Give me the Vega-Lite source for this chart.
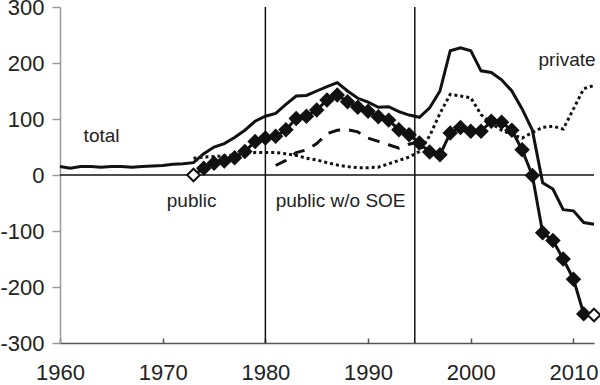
{
  "$schema": "https://vega.github.io/schema/vega-lite/v6.json",
  "width": 534,
  "height": 336,
  "autosize": "none",
  "padding": {"left": 60, "top": 7, "right": 6, "bottom": 42},
  "background": "white",
  "config": {
    "view": {"stroke": null},
    "font": "Liberation Sans",
    "axis": {"grid": false, "labelFont": "Liberation Sans", "labelFontSize": 22, "labelColor": "#222", "title": null, "labelFlush": false}
  },
  "datasets": {
    "series": [
      {"series": "total", "year": 1960, "value": 15},
      {"series": "total", "year": 1961, "value": 12},
      {"series": "total", "year": 1962, "value": 15},
      {"series": "total", "year": 1963, "value": 15},
      {"series": "total", "year": 1964, "value": 14},
      {"series": "total", "year": 1965, "value": 15},
      {"series": "total", "year": 1966, "value": 15},
      {"series": "total", "year": 1967, "value": 14},
      {"series": "total", "year": 1968, "value": 15},
      {"series": "total", "year": 1969, "value": 16},
      {"series": "total", "year": 1970, "value": 17},
      {"series": "total", "year": 1971, "value": 19},
      {"series": "total", "year": 1972, "value": 20},
      {"series": "total", "year": 1973, "value": 22},
      {"series": "total", "year": 1974, "value": 38},
      {"series": "total", "year": 1975, "value": 50},
      {"series": "total", "year": 1976, "value": 56},
      {"series": "total", "year": 1977, "value": 67},
      {"series": "total", "year": 1978, "value": 80},
      {"series": "total", "year": 1979, "value": 96},
      {"series": "total", "year": 1980, "value": 105},
      {"series": "total", "year": 1981, "value": 110},
      {"series": "total", "year": 1982, "value": 126},
      {"series": "total", "year": 1983, "value": 141},
      {"series": "total", "year": 1984, "value": 142},
      {"series": "total", "year": 1985, "value": 150},
      {"series": "total", "year": 1986, "value": 158},
      {"series": "total", "year": 1987, "value": 165},
      {"series": "total", "year": 1988, "value": 150},
      {"series": "total", "year": 1989, "value": 137},
      {"series": "total", "year": 1990, "value": 130},
      {"series": "total", "year": 1991, "value": 121},
      {"series": "total", "year": 1992, "value": 122},
      {"series": "total", "year": 1993, "value": 113},
      {"series": "total", "year": 1994, "value": 107},
      {"series": "total", "year": 1995, "value": 103},
      {"series": "total", "year": 1996, "value": 120},
      {"series": "total", "year": 1997, "value": 150},
      {"series": "total", "year": 1998, "value": 222},
      {"series": "total", "year": 1999, "value": 227},
      {"series": "total", "year": 2000, "value": 222},
      {"series": "total", "year": 2001, "value": 186},
      {"series": "total", "year": 2002, "value": 183},
      {"series": "total", "year": 2003, "value": 170},
      {"series": "total", "year": 2004, "value": 150},
      {"series": "total", "year": 2005, "value": 118},
      {"series": "total", "year": 2006, "value": 80},
      {"series": "total", "year": 2007, "value": -14},
      {"series": "total", "year": 2008, "value": -25},
      {"series": "total", "year": 2009, "value": -62},
      {"series": "total", "year": 2010, "value": -64},
      {"series": "total", "year": 2011, "value": -85},
      {"series": "total", "year": 2012, "value": -88},

      {"series": "private", "year": 1973, "value": 30},
      {"series": "private", "year": 1974, "value": 32},
      {"series": "private", "year": 1975, "value": 33},
      {"series": "private", "year": 1976, "value": 34},
      {"series": "private", "year": 1977, "value": 36},
      {"series": "private", "year": 1978, "value": 39},
      {"series": "private", "year": 1979, "value": 40},
      {"series": "private", "year": 1980, "value": 40},
      {"series": "private", "year": 1981, "value": 40},
      {"series": "private", "year": 1982, "value": 38},
      {"series": "private", "year": 1983, "value": 35},
      {"series": "private", "year": 1984, "value": 30},
      {"series": "private", "year": 1985, "value": 27},
      {"series": "private", "year": 1986, "value": 22},
      {"series": "private", "year": 1987, "value": 18},
      {"series": "private", "year": 1988, "value": 15},
      {"series": "private", "year": 1989, "value": 13},
      {"series": "private", "year": 1990, "value": 13},
      {"series": "private", "year": 1991, "value": 14},
      {"series": "private", "year": 1992, "value": 20},
      {"series": "private", "year": 1993, "value": 26},
      {"series": "private", "year": 1994, "value": 32},
      {"series": "private", "year": 1995, "value": 42},
      {"series": "private", "year": 1996, "value": 70},
      {"series": "private", "year": 1997, "value": 110},
      {"series": "private", "year": 1998, "value": 144},
      {"series": "private", "year": 1999, "value": 141},
      {"series": "private", "year": 2000, "value": 138},
      {"series": "private", "year": 2001, "value": 108},
      {"series": "private", "year": 2002, "value": 92},
      {"series": "private", "year": 2003, "value": 80},
      {"series": "private", "year": 2004, "value": 72},
      {"series": "private", "year": 2005, "value": 66},
      {"series": "private", "year": 2006, "value": 76},
      {"series": "private", "year": 2007, "value": 85},
      {"series": "private", "year": 2008, "value": 87},
      {"series": "private", "year": 2009, "value": 82},
      {"series": "private", "year": 2010, "value": 118},
      {"series": "private", "year": 2011, "value": 154},
      {"series": "private", "year": 2012, "value": 160},

      {"series": "soe", "year": 1981, "value": 17},
      {"series": "soe", "year": 1982, "value": 26},
      {"series": "soe", "year": 1983, "value": 40},
      {"series": "soe", "year": 1984, "value": 45},
      {"series": "soe", "year": 1985, "value": 56},
      {"series": "soe", "year": 1986, "value": 74},
      {"series": "soe", "year": 1987, "value": 80},
      {"series": "soe", "year": 1988, "value": 81},
      {"series": "soe", "year": 1989, "value": 77},
      {"series": "soe", "year": 1990, "value": 66},
      {"series": "soe", "year": 1991, "value": 60},
      {"series": "soe", "year": 1992, "value": 54},
      {"series": "soe", "year": 1993, "value": 48},
      {"series": "soe", "year": 1994, "value": 55},
      {"series": "soe", "year": 1995, "value": 60},

      {"series": "public", "year": 1973, "value": 0},
      {"series": "public", "year": 1974, "value": 12},
      {"series": "public", "year": 1975, "value": 21},
      {"series": "public", "year": 1976, "value": 25},
      {"series": "public", "year": 1977, "value": 31},
      {"series": "public", "year": 1978, "value": 42},
      {"series": "public", "year": 1979, "value": 60},
      {"series": "public", "year": 1980, "value": 66},
      {"series": "public", "year": 1981, "value": 69},
      {"series": "public", "year": 1982, "value": 81},
      {"series": "public", "year": 1983, "value": 101},
      {"series": "public", "year": 1984, "value": 105},
      {"series": "public", "year": 1985, "value": 116},
      {"series": "public", "year": 1986, "value": 134},
      {"series": "public", "year": 1987, "value": 143},
      {"series": "public", "year": 1988, "value": 131},
      {"series": "public", "year": 1989, "value": 121},
      {"series": "public", "year": 1990, "value": 114},
      {"series": "public", "year": 1991, "value": 104},
      {"series": "public", "year": 1992, "value": 98},
      {"series": "public", "year": 1993, "value": 81},
      {"series": "public", "year": 1994, "value": 72},
      {"series": "public", "year": 1995, "value": 57},
      {"series": "public", "year": 1996, "value": 41},
      {"series": "public", "year": 1997, "value": 36},
      {"series": "public", "year": 1998, "value": 75},
      {"series": "public", "year": 1999, "value": 85},
      {"series": "public", "year": 2000, "value": 78},
      {"series": "public", "year": 2001, "value": 78},
      {"series": "public", "year": 2002, "value": 96},
      {"series": "public", "year": 2003, "value": 94},
      {"series": "public", "year": 2004, "value": 80},
      {"series": "public", "year": 2005, "value": 45},
      {"series": "public", "year": 2006, "value": -1},
      {"series": "public", "year": 2007, "value": -103},
      {"series": "public", "year": 2008, "value": -117},
      {"series": "public", "year": 2009, "value": -150},
      {"series": "public", "year": 2010, "value": -186},
      {"series": "public", "year": 2011, "value": -248},
      {"series": "public", "year": 2012, "value": -250}
    ],
    "labels": [
      {"label": "total", "year": 1962.3, "value": 69},
      {"label": "public", "year": 1970.4, "value": -46},
      {"label": "public w/o SOE", "year": 1981.0, "value": -46},
      {"label": "private", "year": 2006.6, "value": 206}
    ],
    "vlines": [{"year": 1980}, {"year": 1994.55}],
    "hline": [{"value": 0}]
  },
  "layer": [
    {
      "data": {"name": "hline"},
      "mark": {"type": "rule", "color": "#111", "strokeWidth": 1.5},
      "encoding": {
        "y": {"field": "value", "type": "quantitative", "scale": {"domain": [-300, 300], "nice": false, "zero": false},
          "axis": {"values": [-300, -200, -100, 0, 100, 200, 300], "labelExpr": "'' + datum.value", "domainColor": "#999", "domainWidth": 1.5, "tickColor": "#999", "tickSize": 8, "tickWidth": 1.5, "labelPadding": 8}}
      }
    },
    {
      "data": {"name": "vlines"},
      "mark": {"type": "rule", "color": "#111", "strokeWidth": 1.5},
      "encoding": {
        "x": {"field": "year", "type": "quantitative", "scale": {"domain": [1960, 2012], "nice": false, "zero": false},
          "axis": {"values": [1960, 1970, 1980, 1990, 2000, 2010], "format": "d", "domainColor": "#555", "domainWidth": 1.5, "tickColor": "#555", "tickSize": -5, "tickWidth": 1.5, "labelPadding": 24}}
      }
    },
    {
      "data": {"name": "series"},
      "transform": [{"filter": "datum.series === 'total'"}],
      "mark": {"type": "line", "color": "#111", "strokeWidth": 3},
      "encoding": {
        "x": {"field": "year", "type": "quantitative"},
        "y": {"field": "value", "type": "quantitative"}
      }
    },
    {
      "data": {"name": "series"},
      "transform": [{"filter": "datum.series === 'private'"}],
      "mark": {"type": "line", "color": "#111", "strokeWidth": 3, "strokeDash": [3, 3]},
      "encoding": {
        "x": {"field": "year", "type": "quantitative"},
        "y": {"field": "value", "type": "quantitative"}
      }
    },
    {
      "data": {"name": "series"},
      "transform": [{"filter": "datum.series === 'soe'"}],
      "mark": {"type": "line", "color": "#111", "strokeWidth": 3, "strokeDash": [12, 9]},
      "encoding": {
        "x": {"field": "year", "type": "quantitative"},
        "y": {"field": "value", "type": "quantitative"}
      }
    },
    {
      "data": {"name": "series"},
      "transform": [{"filter": "datum.series === 'public'"}],
      "mark": {"type": "line", "color": "#111", "strokeWidth": 3},
      "encoding": {
        "x": {"field": "year", "type": "quantitative"},
        "y": {"field": "value", "type": "quantitative"}
      }
    },
    {
      "data": {"name": "series"},
      "transform": [{"filter": "datum.series === 'public'"}],
      "mark": {"type": "point", "shape": "diamond", "size": 160, "filled": true, "stroke": "#111", "strokeWidth": 2, "opacity": 1},
      "encoding": {
        "x": {"field": "year", "type": "quantitative"},
        "y": {"field": "value", "type": "quantitative"},
        "fill": {"condition": {"test": "datum.year === 1973 || datum.year === 2012", "value": "white"}, "value": "#111"}
      }
    },
    {
      "data": {"name": "labels"},
      "mark": {"type": "text", "align": "left", "baseline": "middle", "fontSize": 19, "font": "Liberation Sans", "color": "#222"},
      "encoding": {
        "x": {"field": "year", "type": "quantitative"},
        "y": {"field": "value", "type": "quantitative"},
        "text": {"field": "label"}
      }
    }
  ]
}
